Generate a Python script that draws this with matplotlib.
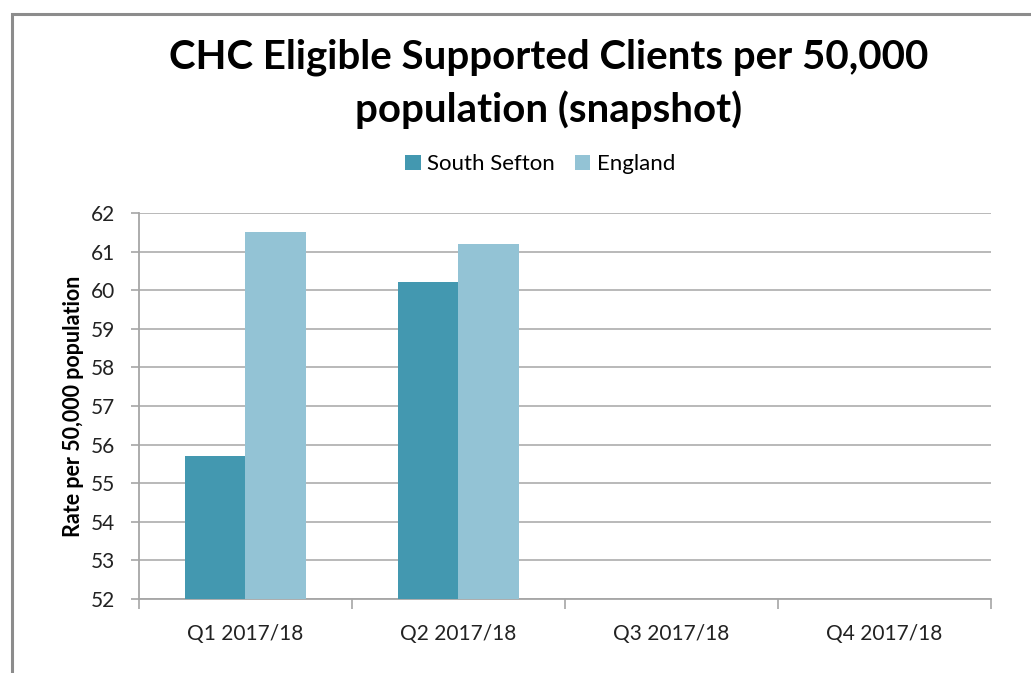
import numpy as np
import matplotlib.pyplot as plt
from matplotlib.patches import Rectangle

# data
quarters = ['Q1 2017/18', 'Q2 2017/18', 'Q3 2017/18', 'Q4 2017/18']
south_sefton = [55.7, 60.2, np.nan, np.nan]
england = [61.5, 61.2, np.nan, np.nan]
y_ticks = list(range(52, 63))

plt.rcParams['font.family'] = ['Lato', 'DejaVu Sans']

fig = plt.figure(figsize=(10.31, 6.73), dpi=100)
ax = fig.add_axes([0.1348, 0.1100, 0.8264, 0.5735])

# outer chart frame (left and top edges visible in the reference)
fig.patches.append(Rectangle((12 / 1031, -0.05), 1.2, 1 - 14 / 673 + 0.05,
                             transform=fig.transFigure, fill=False,
                             edgecolor='#8c8c8c', linewidth=2.2))

x = np.arange(len(quarters))
w = 0.286
ax.bar(x - w / 2, south_sefton, w, color='#4398b0', label='South Sefton', zorder=3)
ax.bar(x + w / 2, england, w, color='#93c3d5', label='England', zorder=3)

ax.set_xlim(-0.5, len(quarters) - 0.5)
ax.set_ylim(52, 62)
ax.set_yticks(y_ticks)
ax.set_xticks(x)
ax.set_xticklabels(quarters, fontsize=15, color='#222222')
ax.set_xticks(np.arange(-0.5, len(quarters)), minor=True)
ax.tick_params(axis='x', which='major', length=0, pad=18)
ax.tick_params(axis='x', which='minor', length=7, color='#a6a6a6', width=1.2)
ax.tick_params(axis='y', length=6, color='#a6a6a6', width=1.2, labelsize=15,
               labelcolor='#222222', pad=11)

ax.grid(axis='y', color='#b3b3b3', linewidth=1.3, zorder=0)
for side in ['top', 'right']:
    ax.spines[side].set_visible(False)
for side in ['left', 'bottom']:
    ax.spines[side].set_color('#a6a6a6')
    ax.spines[side].set_linewidth(1.3)

ax.set_ylabel('Rate per 50,000 population', fontsize=15.5, fontweight='bold', labelpad=5)

fig.text(0.532, 0.875, 'CHC Eligible Supported Clients per 50,000\npopulation (snapshot)',
         ha='center', va='center', fontsize=29, fontweight='bold', linespacing=1.45)

fig.legend(loc='center', bbox_to_anchor=(0.524, 0.756), ncol=2, frameon=False,
           fontsize=16, handlelength=0.7, handleheight=0.7, handletextpad=0.3,
           columnspacing=0.9)

plt.savefig('out.png', dpi=100)
